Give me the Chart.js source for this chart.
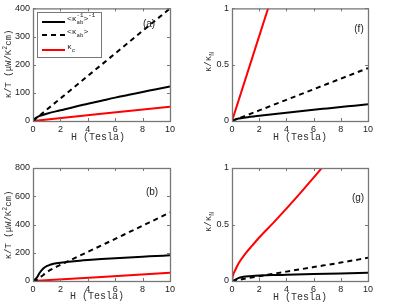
<!DOCTYPE html>
<html><head><meta charset="utf-8">
<script src="https://cdn.jsdelivr.net/npm/chart.js@4.4.0/dist/chart.umd.min.js"></script>
<style>
html,body{margin:0;padding:0;background:#fff;width:415px;height:303px;overflow:hidden}
.p{position:absolute}
canvas{display:block}
</style></head><body>
<div class="p" style="left:0;top:0"><canvas id="ca" width="200" height="150" style="width:200px;height:150px"></canvas></div>
<div class="p" style="left:200px;top:0"><canvas id="cf" width="215" height="150" style="width:215px;height:150px"></canvas></div>
<div class="p" style="left:0;top:150px"><canvas id="cb" width="200" height="153" style="width:200px;height:153px"></canvas></div>
<div class="p" style="left:200px;top:150px"><canvas id="cg" width="215" height="153" style="width:215px;height:153px"></canvas></div>
<script>
// ---------- DATA ----------
const xTicks = [0, 2, 4, 6, 8, 10];
const yTicksA = [0, 100, 200, 300, 400];
const yTicksB = [0, 200, 400, 600, 800];
const yTicksF = [0, 0.5, 1];
const yTicksG = [0, 0.5, 1];

// panel (a)  kappa/T
const aH_inv = [0, 0.1, 0.25, 0.5, 1, 2, 3, 4, 5, 6, 7, 8, 9, 10];
const aInv   = [0, 7, 12, 18, 26, 38, 50, 61, 72, 83, 93, 103, 113, 123];
const aH_avg = [0, 1, 2, 4, 6, 8, 10];
const aAvg   = [0, 40, 80, 160, 240, 320, 400];
const aH_c   = [0, 10];
const aC     = [0, 51];

// panel (f)  kappa/kappa_N
const fH_inv = [0, 0.25, 0.5, 1, 2, 3, 4, 5, 6, 7, 8, 9, 10];
const fInv   = [0, 0.0145, 0.022, 0.031, 0.046, 0.06, 0.073, 0.087, 0.1, 0.112, 0.124, 0.136, 0.148];
const fH_avg = [0, 1, 2, 4, 6, 8, 10];
const fAvg   = [0, 0.047, 0.094, 0.188, 0.282, 0.376, 0.47];
const fH_c   = [0, 10];
const fC     = [0, 3.77];

// panel (b)  kappa/T
const bH_inv = [0, 0.25, 0.5, 0.75, 1, 1.25, 1.5, 2, 3, 4, 5, 6, 7, 8, 9, 10];
const bInv   = [0, 20, 60, 88, 105, 115, 122, 130, 140, 148, 155, 161, 167, 172, 177, 182];
const bH_avg = [0, 0.25, 0.5, 0.75, 1, 1.5, 2, 3, 4, 5, 6, 7, 8, 9, 10];
const bAvg   = [0, 7, 25, 43, 62, 90, 114, 160, 206, 252, 298, 345, 392, 438, 485];
const bH_c   = [0, 10];
const bC     = [0, 58];

// panel (g)  kappa/kappa_N
const gH_inv = [0, 0.25, 0.5, 0.75, 1, 1.5, 2, 3, 4, 6, 8, 10];
const gInv   = [0, 0.012, 0.028, 0.036, 0.04, 0.045, 0.048, 0.052, 0.055, 0.061, 0.066, 0.072];
const gH_avg = [0, 0.25, 0.5, 1, 2, 4, 6, 8, 10];
const gAvg   = [0, 0.003, 0.01, 0.022, 0.043, 0.083, 0.123, 0.163, 0.205];
const gH_c   = [0, 0.05, 0.1, 0.25, 0.5, 1, 1.5, 2, 3, 4, 5, 6, 7, 8];
const gC     = [0, 0.04, 0.06, 0.1, 0.16, 0.245, 0.315, 0.385, 0.51, 0.64, 0.775, 0.915, 1.055, 1.19];

const seriesNames = ['<κab-1>-1', '<κab>', 'κc'];

// ---------- HELPERS ----------
const AX = '#777';
const MONO = '"Liberation Mono","DejaVu Sans Mono",monospace';
const SANS = '"Liberation Sans","DejaVu Sans",Arial,sans-serif';
const pts = (xs, ys) => xs.map((x, i) => ({x, y: ys[i]}));

function richWidth(ctx, parts, size) {
  let w = 0;
  parts.forEach(p => {
    if (typeof p === 'string') { ctx.font = size + 'px ' + MONO; w += ctx.measureText(p).width; }
    else {
      ctx.font = (size * 0.72) + 'px ' + MONO;
      w += Math.max(p.sub ? ctx.measureText(p.sub).width : 0, p.sup ? ctx.measureText(p.sup).width : 0);
    }
  });
  return w;
}
function drawRich(ctx, parts, x, y, size) { // x = left, y = middle
  ctx.textBaseline = 'middle'; ctx.textAlign = 'left';
  parts.forEach(p => {
    if (typeof p === 'string') {
      ctx.font = size + 'px ' + MONO; ctx.fillText(p, x, y); x += ctx.measureText(p).width;
    } else {
      ctx.font = (size * 0.72) + 'px ' + MONO;
      let w = 0;
      if (p.sup) { ctx.fillText(p.sup, x, y - size * 0.38); w = Math.max(w, ctx.measureText(p.sup).width); }
      if (p.sub) { ctx.fillText(p.sub, x, y + size * 0.38); w = Math.max(w, ctx.measureText(p.sub).width); }
      x += w;
    }
  });
}

const deco = {
  id: 'deco',
  afterDraw(chart, args, o) {
    const ctx = chart.ctx, a = chart.chartArea;
    const xs = chart.scales.x, ys = chart.scales.y;
    ctx.save();
    ctx.strokeStyle = AX; ctx.lineWidth = 1;
    ctx.beginPath();
    xs.ticks.forEach(t => {
      const px = Math.round(xs.getPixelForValue(t.value)) + 0.5;
      ctx.moveTo(px, a.bottom); ctx.lineTo(px, a.bottom - 3);
      ctx.moveTo(px, a.top); ctx.lineTo(px, a.top + 3);
    });
    ys.ticks.forEach(t => {
      const py = Math.round(ys.getPixelForValue(t.value)) + 0.5;
      ctx.moveTo(a.left, py); ctx.lineTo(a.left + 3, py);
      ctx.moveTo(a.right, py); ctx.lineTo(a.right - 3, py);
    });
    ctx.stroke();
    ctx.lineWidth = 1.3;
    ctx.strokeRect(a.left + 0.5, a.top + 0.5, a.right - a.left, a.bottom - a.top);

    ctx.fillStyle = '#333';
    // x title
    ctx.font = '10px ' + MONO; ctx.textAlign = 'center'; ctx.textBaseline = 'middle';
    ctx.fillText('H (Tesla)', o.xt[0], o.xt[1]);
    // y title
    ctx.save();
    ctx.translate(o.yt[0], o.yt[1]); ctx.rotate(-Math.PI / 2);
    const w = richWidth(ctx, o.ytParts, 9);
    drawRich(ctx, o.ytParts, -w / 2, 0, 9);
    ctx.restore();
    // panel label
    ctx.fillStyle = '#222';
    ctx.font = '10px ' + SANS; ctx.textAlign = 'center'; ctx.textBaseline = 'middle';
    ctx.fillText(o.label[0], o.label[1], o.label[2]);

    // legend
    if (o.legend) {
      const L = o.legend;
      ctx.fillStyle = '#fff';
      ctx.fillRect(L.x, L.y, L.w, L.h);
      ctx.strokeStyle = AX; ctx.lineWidth = 1;
      ctx.strokeRect(L.x + 0.5, L.y + 0.5, L.w, L.h);
      chart.data.datasets.forEach((ds, i) => {
        const yy = L.rows[i];
        ctx.strokeStyle = ds.borderColor; ctx.lineWidth = 2;
        ctx.setLineDash(ds.borderDash || []);
        ctx.beginPath(); ctx.moveTo(L.x + 5, yy); ctx.lineTo(L.x + 28, yy); ctx.stroke();
        ctx.setLineDash([]);
        ctx.fillStyle = '#222';
        drawRich(ctx, L.parts[i], L.x + 30, yy - 3, 8);
      });
    }
    ctx.restore();
  }
};

function makeChart(id, opt) {
  const cv = document.getElementById(id);
  const W = cv.width, Hh = cv.height;
  const ds = [
    {label: seriesNames[0], data: opt.inv, borderColor: '#000', borderWidth: 2},
    {label: seriesNames[1], data: opt.avg, borderColor: '#000', borderWidth: 2, borderDash: [5, 4]},
    {label: seriesNames[2], data: opt.c, borderColor: '#ff0000', borderWidth: 2}
  ].map(d => Object.assign(d, {pointRadius: 0, fill: false, cubicInterpolationMode: 'monotone', clip: 0}));
  return new Chart(cv, {
    type: 'line',
    data: {datasets: ds},
    options: {
      responsive: false, animation: false, devicePixelRatio: 1,
      layout: {padding: {left: 0, top: opt.area.t, right: W - opt.area.r, bottom: 0}},
      plugins: {legend: {display: false}, tooltip: {enabled: false}, deco: opt.deco},
      scales: {
        x: {
          type: 'linear', min: 0, max: 10,
          afterBuildTicks: s => { s.ticks = xTicks.map(v => ({value: v})); },
          ticks: {padding: 3, color: '#222', font: {size: 9, family: SANS}, maxRotation: 0, callback: v => String(v)},
          grid: {display: false, drawTicks: false}, border: {display: false},
          afterFit: s => { s.height = Hh - opt.area.b; }
        },
        y: {
          type: 'linear', min: 0, max: opt.ymax,
          afterBuildTicks: s => { s.ticks = opt.yticks.map(v => ({value: v})); },
          ticks: {padding: 3, color: '#222', font: {size: 9, family: SANS}, callback: v => String(v)},
          grid: {display: false, drawTicks: false}, border: {display: false},
          afterFit: s => { s.width = opt.area.l; }
        }
      }
    },
    plugins: [deco]
  });
}

const ktParts = ['κ/T (μW/K', {sup: '2'}, 'cm)'];
const knParts = ['κ/κ', {sub: 'N'}];

makeChart('ca', {
  area: {l: 33, r: 170, t: 7, b: 121}, ymax: 400, yticks: yTicksA,
  inv: pts(aH_inv, aInv), avg: pts(aH_avg, aAvg), c: pts(aH_c, aC),
  deco: {xt: [98, 137], yt: [9, 64], ytParts: ktParts, label: ['(a)', 149, 24],
    legend: {x: 37, y: 12, w: 64, h: 45, rows: [22, 35, 50],
      parts: [['<κ', {sub: 'ab', sup: '-1'}, '>', {sup: '-1'}], ['<κ', {sub: 'ab'}, '>'], ['κ', {sub: 'c'}]]}}
});
makeChart('cf', {
  area: {l: 32, r: 168, t: 7, b: 121}, ymax: 1, yticks: yTicksF,
  inv: pts(fH_inv, fInv), avg: pts(fH_avg, fAvg), c: pts(fH_c, fC),
  deco: {xt: [100, 137], yt: [9, 62], ytParts: knParts, label: ['(f)', 159, 29]}
});
makeChart('cb', {
  area: {l: 33, r: 170, t: 18, b: 131}, ymax: 800, yticks: yTicksB,
  inv: pts(bH_inv, bInv), avg: pts(bH_avg, bAvg), c: pts(bH_c, bC),
  deco: {xt: [97, 146], yt: [9, 75], ytParts: ktParts, label: ['(b)', 152, 42]}
});
makeChart('cg', {
  area: {l: 32, r: 168, t: 18, b: 131}, ymax: 1, yticks: yTicksG,
  inv: pts(gH_inv, gInv), avg: pts(gH_avg, gAvg), c: pts(gH_c, gC),
  deco: {xt: [100, 147], yt: [9, 72], ytParts: knParts, label: ['(g)', 158, 48]}
});
</script>
</body></html>
